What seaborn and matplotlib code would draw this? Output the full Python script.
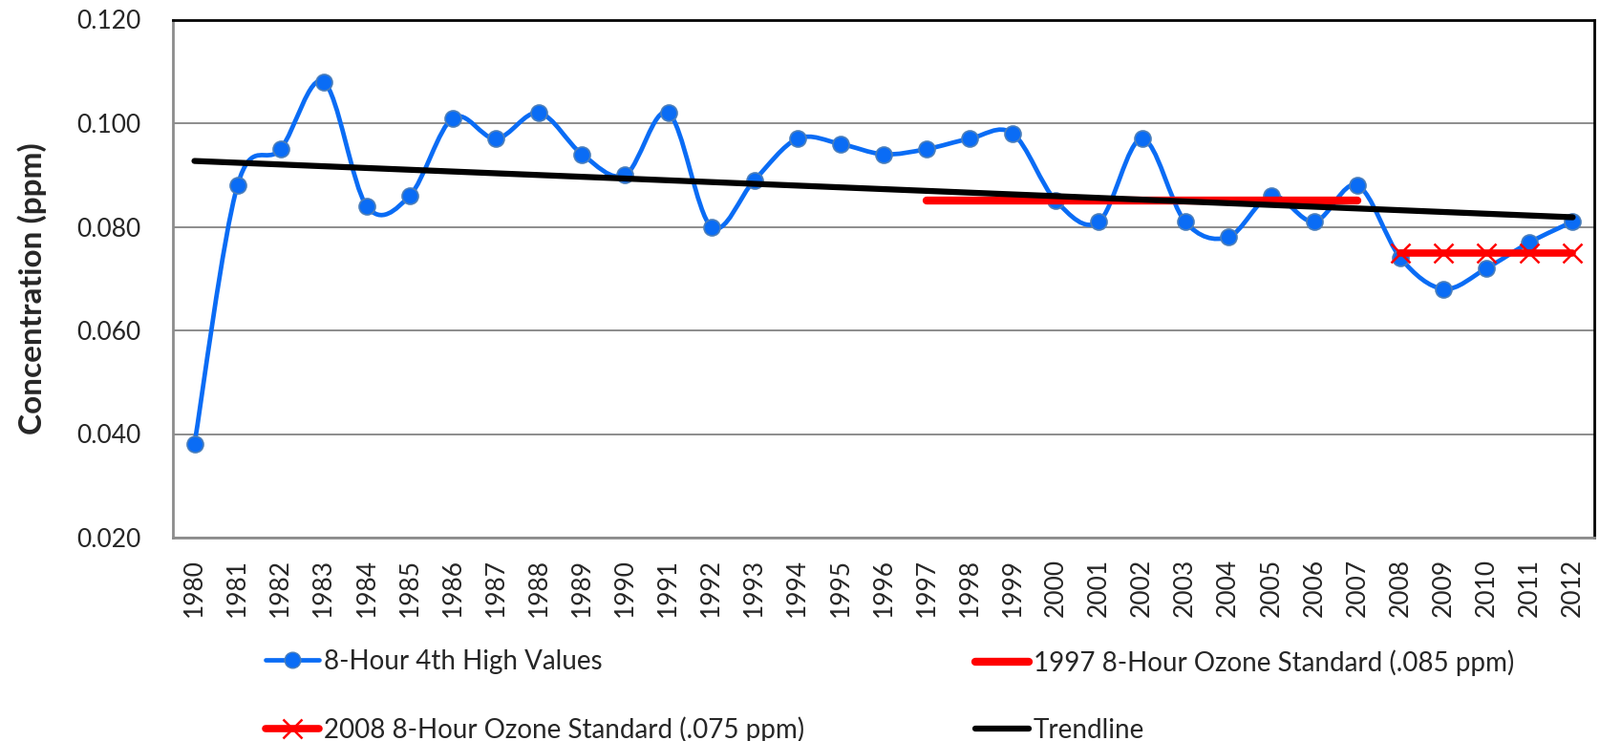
import matplotlib
matplotlib.use("Agg")
import matplotlib.pyplot as plt
import numpy as np
import seaborn as sns
from matplotlib.lines import Line2D
from matplotlib.path import Path
from matplotlib.patches import PathPatch

# data
years = [str(y) for y in range(1980, 2013)]
high_values = [0.038, 0.088, 0.095, 0.108, 0.084, 0.086, 0.101, 0.097, 0.102, 0.094,
               0.090, 0.102, 0.080, 0.089, 0.097, 0.096, 0.094, 0.095, 0.097, 0.098,
               0.085, 0.081, 0.097, 0.081, 0.078, 0.086, 0.081, 0.088, 0.074, 0.068,
               0.072, 0.077, 0.081]
std1997_years = [str(y) for y in range(1997, 2008)]
std1997_values = [0.085] * len(std1997_years)
std2008_years = [str(y) for y in range(2008, 2013)]
std2008_values = [0.075] * len(std2008_years)
yticks = [0.020, 0.040, 0.060, 0.080, 0.100, 0.120]

BLUE = "#0a6cf5"
RED = "#ff0000"

sns.set_theme(style="white")
plt.rcParams['font.family'] = ['Lato', 'DejaVu Sans']

fig = plt.figure(figsize=(16.75, 7.76), dpi=100)
ax = fig.add_axes([181 / 1675, 1 - 563 / 776, (1669 - 181) / 1675, (563 - 20.5) / 776])

idx = np.arange(len(years))
pos = {y: i for i, y in enumerate(years)}

# smoothed line (Excel-style Bezier through the points)
pts = np.column_stack([idx, high_values])
verts = [tuple(pts[0])]
codes = [Path.MOVETO]
n = len(pts)
for i in range(n - 1):
    p0 = pts[max(i - 1, 0)]
    p1 = pts[i]
    p2 = pts[i + 1]
    p3 = pts[min(i + 2, n - 1)]
    c1 = p1 + (p2 - p0) / 6.0
    c2 = p2 - (p3 - p1) / 6.0
    verts += [tuple(c1), tuple(c2), tuple(p2)]
    codes += [Path.CURVE4] * 3
ax.add_patch(PathPatch(Path(verts, codes), fill=False, edgecolor=BLUE, lw=3.4,
                       capstyle='round', joinstyle='round', zorder=3))
sns.scatterplot(x=idx, y=high_values, ax=ax, s=150, color=BLUE, edgecolor="#4a7ebb",
                linewidth=1.2, zorder=4, legend=False)

# standards
sns.lineplot(x=[pos[y] for y in std1997_years], y=std1997_values, ax=ax, color=RED,
             lw=6, solid_capstyle='round', zorder=5)
sns.lineplot(x=[pos[y] for y in std2008_years], y=std2008_values, ax=ax, color=RED,
             lw=5.5, marker='x', markersize=14, mew=1.8, mec=RED, zorder=5)

# linear trendline
sns.regplot(x=idx, y=np.array(high_values), ax=ax, scatter=False, ci=None, truncate=True,
            line_kws=dict(color='black', lw=4.5, solid_capstyle='round', zorder=6))

ax.set_xlim(-0.5, len(years) - 0.5)
ax.set_ylim(0.020, 0.120)
ax.set_yticks(yticks)
ax.set_yticklabels([f"{v:.3f}" for v in yticks], fontsize=19)
ax.set_xticks(idx)
ax.set_xticklabels(years, rotation=90, fontsize=19)
ax.tick_params(axis='x', direction='inout', length=15, width=1, color='#8c8c8c', pad=8)
ax.tick_params(axis='y', length=0, pad=24)
ax.grid(axis='y', color='#8c8c8c', lw=1.4)
ax.grid(axis='x', visible=False)
ax.set_axisbelow(True)
ax.set_xlabel("")
ax.set_ylabel("Concentration (ppm)", fontsize=24, fontweight='bold')
ax.yaxis.set_label_coords(-132 / 1488, 0.481)

for side in ['left', 'bottom']:
    ax.spines[side].set_color('#8c8c8c')
    ax.spines[side].set_linewidth(2)
for side in ['top', 'right']:
    ax.spines[side].set_color('black')
    ax.spines[side].set_linewidth(2)

# legend in two columns placed like the original
h_blue = Line2D([], [], color=BLUE, lw=3.4, marker='o', markersize=12,
                markerfacecolor=BLUE, markeredgecolor="#4a7ebb")
h_2008 = Line2D([], [], color=RED, lw=5.5, marker='x', markersize=14, mew=1.8)
h_1997 = Line2D([], [], color=RED, lw=6, solid_capstyle='round')
h_trend = Line2D([], [], color='black', lw=4.5, solid_capstyle='round')

common = dict(frameon=False, fontsize=20, handlelength=2.0, handletextpad=0.2,
              labelspacing=1.6, borderpad=0, borderaxespad=0, loc='upper left')
fig.legend([h_blue, h_2008], ["8-Hour 4th High Values", "2008 8-Hour Ozone Standard (.075 ppm)"],
           bbox_to_anchor=(278 / 1675, 1 - 680 / 776), **common)
fig.legend([h_1997, h_trend], ["1997 8-Hour Ozone Standard (.085 ppm)", "Trendline"],
           bbox_to_anchor=(1021 / 1675, 1 - 680 / 776), **common)

fig.savefig("out.png", dpi=100, facecolor='white')
